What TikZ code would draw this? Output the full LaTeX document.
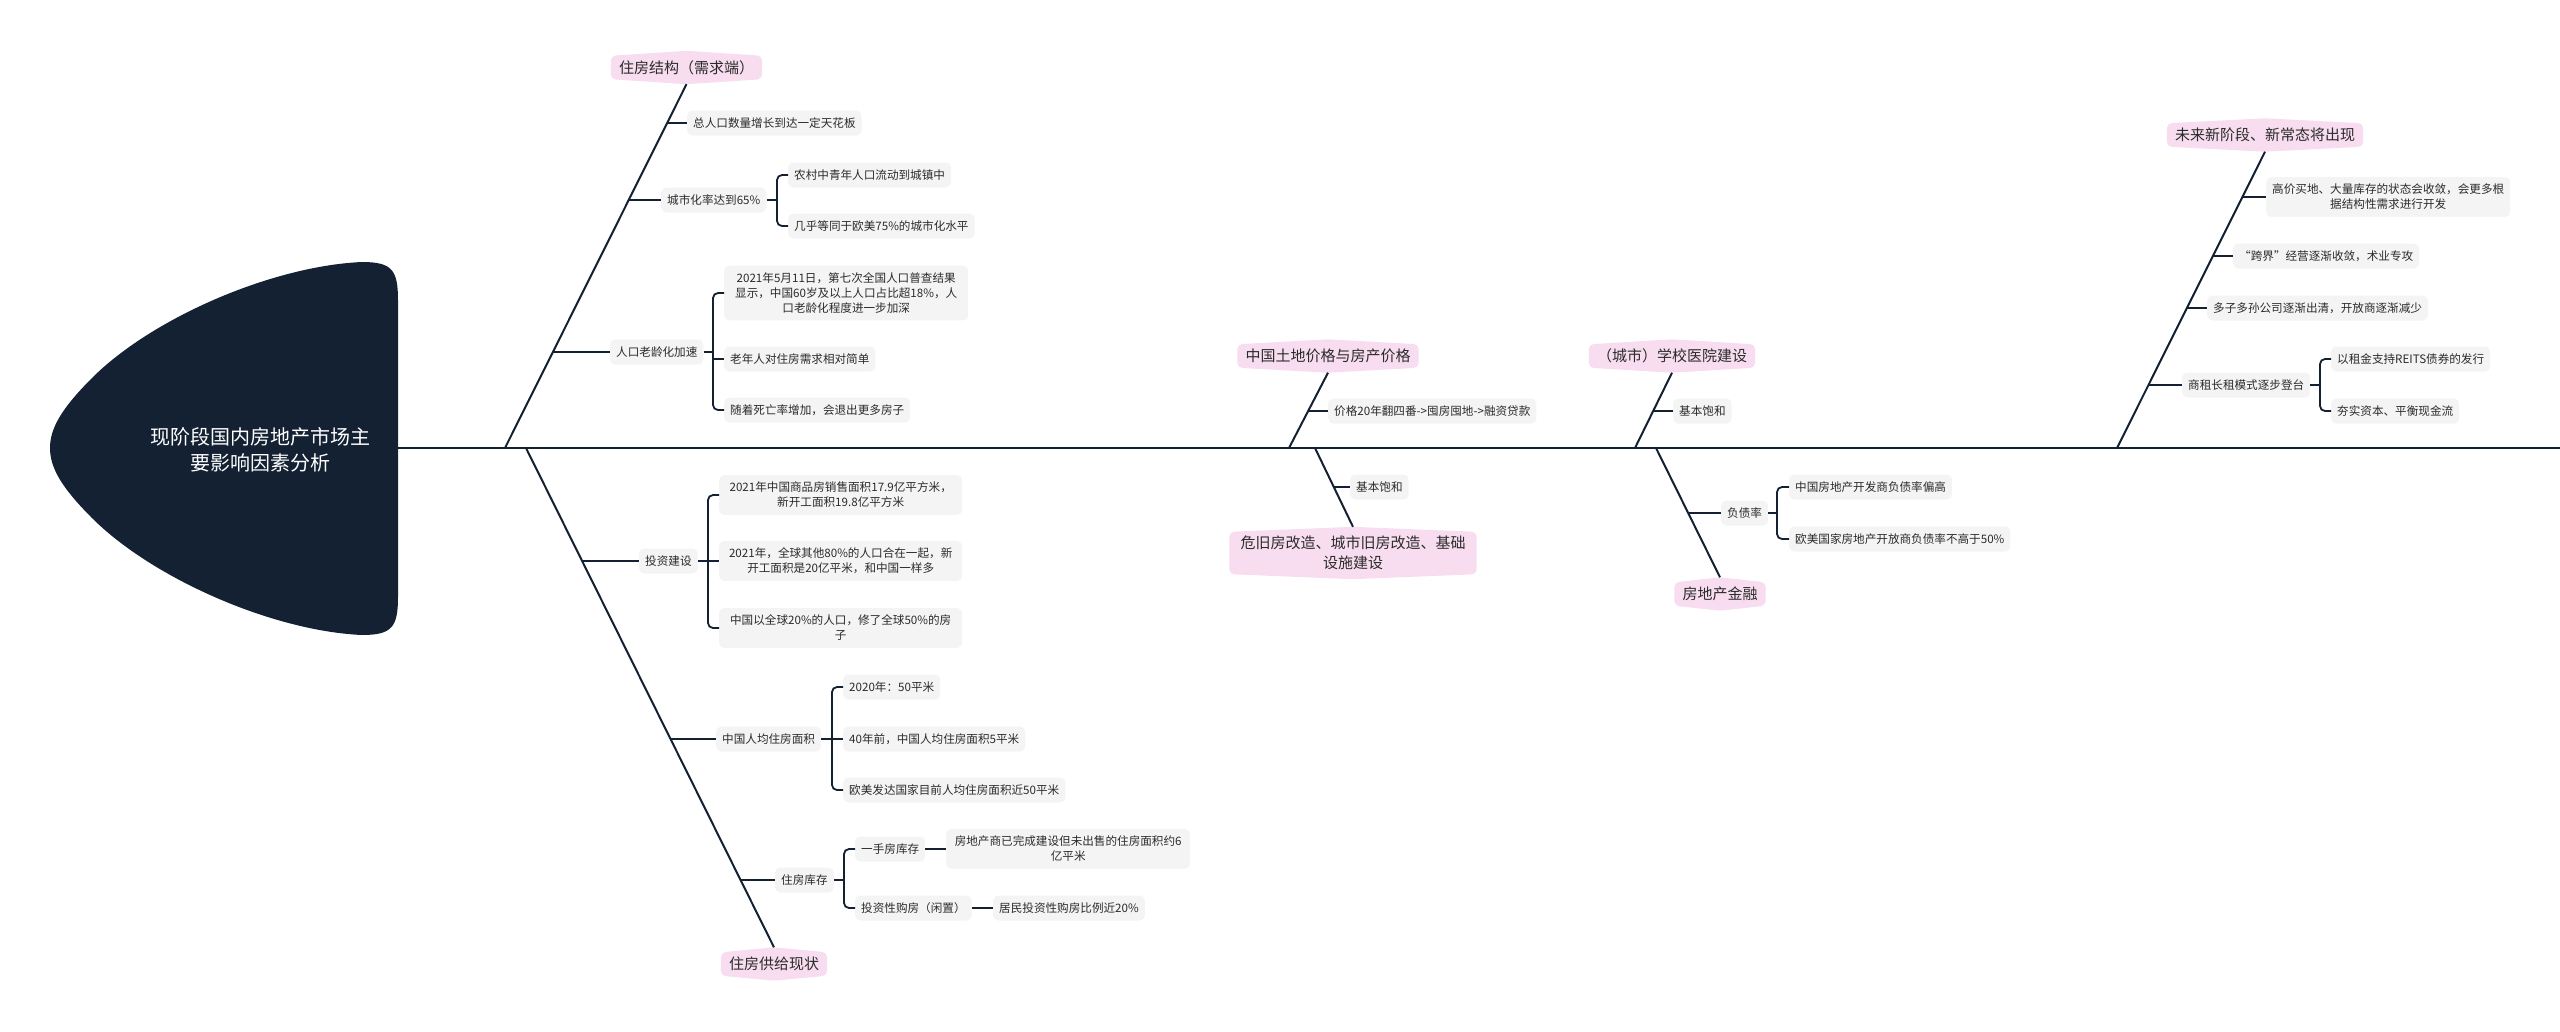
\documentclass[tikz,border=0pt]{standalone}
\usepackage{fontspec}
\setmainfont{Noto Sans CJK SC}
\usetikzlibrary{backgrounds,calc}
\definecolor{navy}{HTML}{132133}
\definecolor{pinkfill}{HTML}{F7DDEF}
\definecolor{boxgray}{HTML}{F4F4F4}
\definecolor{txt}{HTML}{2B2B2B}
\newcommand\pinkbg[1]{\fill[pinkfill, rounded corners=5pt] (#1.west) -- (#1.north west) -- ([yshift=5pt]#1.north) -- (#1.north east) -- (#1.east) -- (#1.south east) -- ([yshift=-5pt]#1.south) -- (#1.south west) -- cycle;}
\begin{document}
\begin{tikzpicture}[x=1pt,y=-1pt,
  leaf/.style={fill=boxgray, rounded corners=5pt, inner xsep=6pt, inner ysep=4pt, minimum height=25pt, anchor=west, text=txt, font=\fontsize{11.6}{15}\selectfont, align=center},
  multi/.style={inner ysep=7pt},
  pinklab/.style={inner xsep=8pt, inner ysep=4pt, minimum height=23pt, text=txt, font=\fontsize{15}{20}\selectfont, align=center},
  title/.style={text=white, font=\fontsize{20}{26}\selectfont, align=center, inner sep=0pt},
  spine/.style={draw=navy, line width=2.6pt},
  bone/.style={draw=navy, line width=2pt},
  conn/.style={draw=navy, line width=1.8pt, rounded corners=5pt}]
\useasboundingbox (0,0) rectangle (2560,1031);

% head
\fill[navy] (398,300) .. controls (398,270) and (392,262) .. (362,262)
  .. controls (272,266) and (152,318) .. (92,378)
  .. controls (62,408) and (50,428) .. (50,448)
  .. controls (50,468) and (62,488) .. (92,518)
  .. controls (152,578) and (272,631) .. (362,635)
  .. controls (392,635) and (398,627) .. (398,597) -- cycle;
\node[title] (head) at (260,450) {现阶段国内房地产市场主\\要影响因素分析};
\coordinate (headR) at (398,448);
\coordinate (spineR) at (2560,448);
\draw[spine] (headR) -- (spineR);

% main labels
\node[pinklab, minimum width=149pt] (L1) at (686.5,67.5) {住房结构（需求端）};
\node[pinklab, minimum width=104pt] (L2) at (774,964) {住房供给现状};
\node[pinklab, minimum width=179pt] (L3) at (1328,356) {中国土地价格与房产价格};
\node[pinklab, minimum width=247pt] (L4) at (1353,553) {危旧房改造、城市旧房改造、基础\\设施建设};
\node[pinklab, minimum width=164pt] (L5) at (1672,356) {（城市）学校医院建设};
\node[pinklab, minimum width=90pt] (L6) at (1720,594) {房地产金融};
\node[pinklab, minimum width=194pt] (L7) at (2265,135) {未来新阶段、新常态将出现};
\begin{pgfonlayer}{background}
\pinkbg{L1}\pinkbg{L2}\pinkbg{L3}\pinkbg{L4}\pinkbg{L5}\pinkbg{L6}\pinkbg{L7}
\end{pgfonlayer}

% bones
\coordinate (S1) at (505,448);
\coordinate (S2) at (526,448);
\coordinate (S3) at (1289,448);
\coordinate (S4) at (1315,448);
\coordinate (S5) at (1635,448);
\coordinate (S6) at (1656,448);
\coordinate (S7) at (2117,448);
\draw[bone] ([yshift=-5pt]L1.south) -- (S1);
\draw[bone] (S2) -- ([yshift=5pt]L2.north);
\draw[bone] ([yshift=-5pt]L3.south) -- (S3);
\draw[bone] (S4) -- ([yshift=5pt]L4.north);
\draw[bone] ([yshift=-5pt]L5.south) -- (S5);
\draw[bone] (S6) -- ([yshift=5pt]L6.north);
\draw[bone] ([yshift=-5pt]L7.south) -- (S7);

% ---- bone 1: 住房结构
\node[leaf] (a1) at (687,123) {总人口数量增长到达一定天花板};
\node[leaf] (a2) at (661,200) {城市化率达到65\%};
\node[leaf] (a21) at (788,175) {农村中青年人口流动到城镇中};
\node[leaf] (a22) at (788,226) {几乎等同于欧美75\%的城市化水平};
\node[leaf] (a3) at (610,352) {人口老龄化加速};
\node[leaf, multi, minimum width=244pt] (a31) at (724,293) {2021年5月11日，第七次全国人口普查结果\\显示，中国60岁及以上人口占比超18\%，人\\口老龄化程度进一步加深};
\node[leaf] (a32) at (724,359) {老年人对住房需求相对简单};
\node[leaf] (a33) at (724,410) {随着死亡率增加，会退出更多房子};
\coordinate (ta1) at (667,123);
\coordinate (ta2) at (628.7,200);
\coordinate (ta3) at (552.9,352);
\draw[conn] (ta1) -- (a1.west);
\draw[conn] (ta2) -- (a2.west);
\draw[conn] (ta3) -- (a3.west);
\coordinate (a2b) at (777,200);
\coordinate (a3b) at (713,352);
\draw[conn] (a2.east) -- (a2b);
\draw[conn] (a21.west) -| (a2b) |- (a22.west);
\draw[conn] (a3.east) -- (a3b);
\draw[conn] (a31.west) -| (a3b) |- (a33.west);
\draw[conn] (a3b |- a32.west) -- (a32.west);

% ---- bone 2: 住房供给现状
\node[leaf] (b1) at (639,561) {投资建设};
\node[leaf, multi, minimum width=243pt] (b11) at (719,495) {2021年中国商品房销售面积17.9亿平方米，\\新开工面积19.8亿平方米};
\node[leaf, multi, minimum width=243pt] (b12) at (719,561) {2021年，全球其他80\%的人口合在一起，新\\开工面积是20亿平米，和中国一样多};
\node[leaf, multi, minimum width=243pt] (b13) at (719,628) {中国以全球20\%的人口，修了全球50\%的房\\子};
\node[leaf] (b2) at (716,739) {中国人均住房面积};
\node[leaf] (b21) at (843,687) {2020年：50平米};
\node[leaf] (b22) at (843,739) {40年前，中国人均住房面积5平米};
\node[leaf] (b23) at (843,790) {欧美发达国家目前人均住房面积近50平米};
\node[leaf] (b3) at (775,880) {住房库存};
\node[leaf] (b31) at (855,849) {一手房库存};
\node[leaf, multi, minimum width=244pt] (b311) at (946,849) {房地产商已完成建设但未出售的住房面积约6\\亿平米};
\node[leaf] (b32) at (855,908) {投资性购房（闲置）};
\node[leaf] (b321) at (993,908) {居民投资性购房比例近20\%};
\coordinate (tb1) at (582.2,561);
\coordinate (tb2) at (670.6,739);
\coordinate (tb3) at (740.7,880);
\draw[conn] (tb1) -- (b1.west);
\draw[conn] (tb2) -- (b2.west);
\draw[conn] (tb3) -- (b3.west);
\coordinate (b1b) at (708,561);
\coordinate (b2b) at (832,739);
\coordinate (b3b) at (844,880);
\draw[conn] (b1.east) -- (b1b);
\draw[conn] (b11.west) -| (b1b) |- (b13.west);
\draw[conn] (b1b |- b12.west) -- (b12.west);
\draw[conn] (b2.east) -- (b2b);
\draw[conn] (b21.west) -| (b2b) |- (b23.west);
\draw[conn] (b2b |- b22.west) -- (b22.west);
\draw[conn] (b3.east) -- (b3b);
\draw[conn] (b31.west) -| (b3b) |- (b32.west);
\draw[conn] (b31.east) -- (b311.west);
\draw[conn] (b32.east) -- (b321.west);

% ---- bone 3 / 4
\node[leaf] (c1) at (1328,411) {价格20年翻四番->囤房囤地->融资贷款};
\coordinate (tc1) at (1308.1,411);
\draw[conn] (tc1) -- (c1.west);
\node[leaf] (d1) at (1350,487) {基本饱和};
\coordinate (td1) at (1333.9,487);
\draw[conn] (td1) -- (d1.west);

% ---- bone 5 / 6
\node[leaf] (e1) at (1673,411) {基本饱和};
\coordinate (te1) at (1653.1,411);
\draw[conn] (te1) -- (e1.west);
\node[leaf] (f1) at (1721,513) {负债率};
\node[leaf] (f11) at (1789,487) {中国房地产开发商负债率偏高};
\node[leaf] (f12) at (1789,539) {欧美国家房地产开放商负债率不高于50\%};
\coordinate (tf1) at (1688.1,513);
\draw[conn] (tf1) -- (f1.west);
\coordinate (f1b) at (1777,513);
\draw[conn] (f1.east) -- (f1b);
\draw[conn] (f11.west) -| (f1b) |- (f12.west);

% ---- bone 7
\node[leaf, multi, minimum width=243pt] (g1) at (2266,197) {高价买地、大量库存的状态会收敛，会更多根\\据结构性需求进行开发};
\node[leaf] (g2) at (2233,256) {“跨界”经营逐渐收敛，术业专攻};
\node[leaf] (g3) at (2207,308) {多子多孙公司逐渐出清，开放商逐渐减少};
\node[leaf] (g4) at (2182,385) {商租长租模式逐步登台};
\node[leaf] (g41) at (2331,359) {以租金支持REITS债券的发行};
\node[leaf] (g42) at (2331,411) {夯实资本、平衡现金流};
\coordinate (tg1) at (2242.3,197);
\coordinate (tg2) at (2212.8,256);
\coordinate (tg3) at (2186.9,308);
\coordinate (tg4) at (2148.4,385);
\draw[conn] (tg1) -- (g1.west);
\draw[conn] (tg2) -- (g2.west);
\draw[conn] (tg3) -- (g3.west);
\draw[conn] (tg4) -- (g4.west);
\coordinate (g4b) at (2320,385);
\draw[conn] (g4.east) -- (g4b);
\draw[conn] (g41.west) -| (g4b) |- (g42.west);
\end{tikzpicture}
\end{document}
